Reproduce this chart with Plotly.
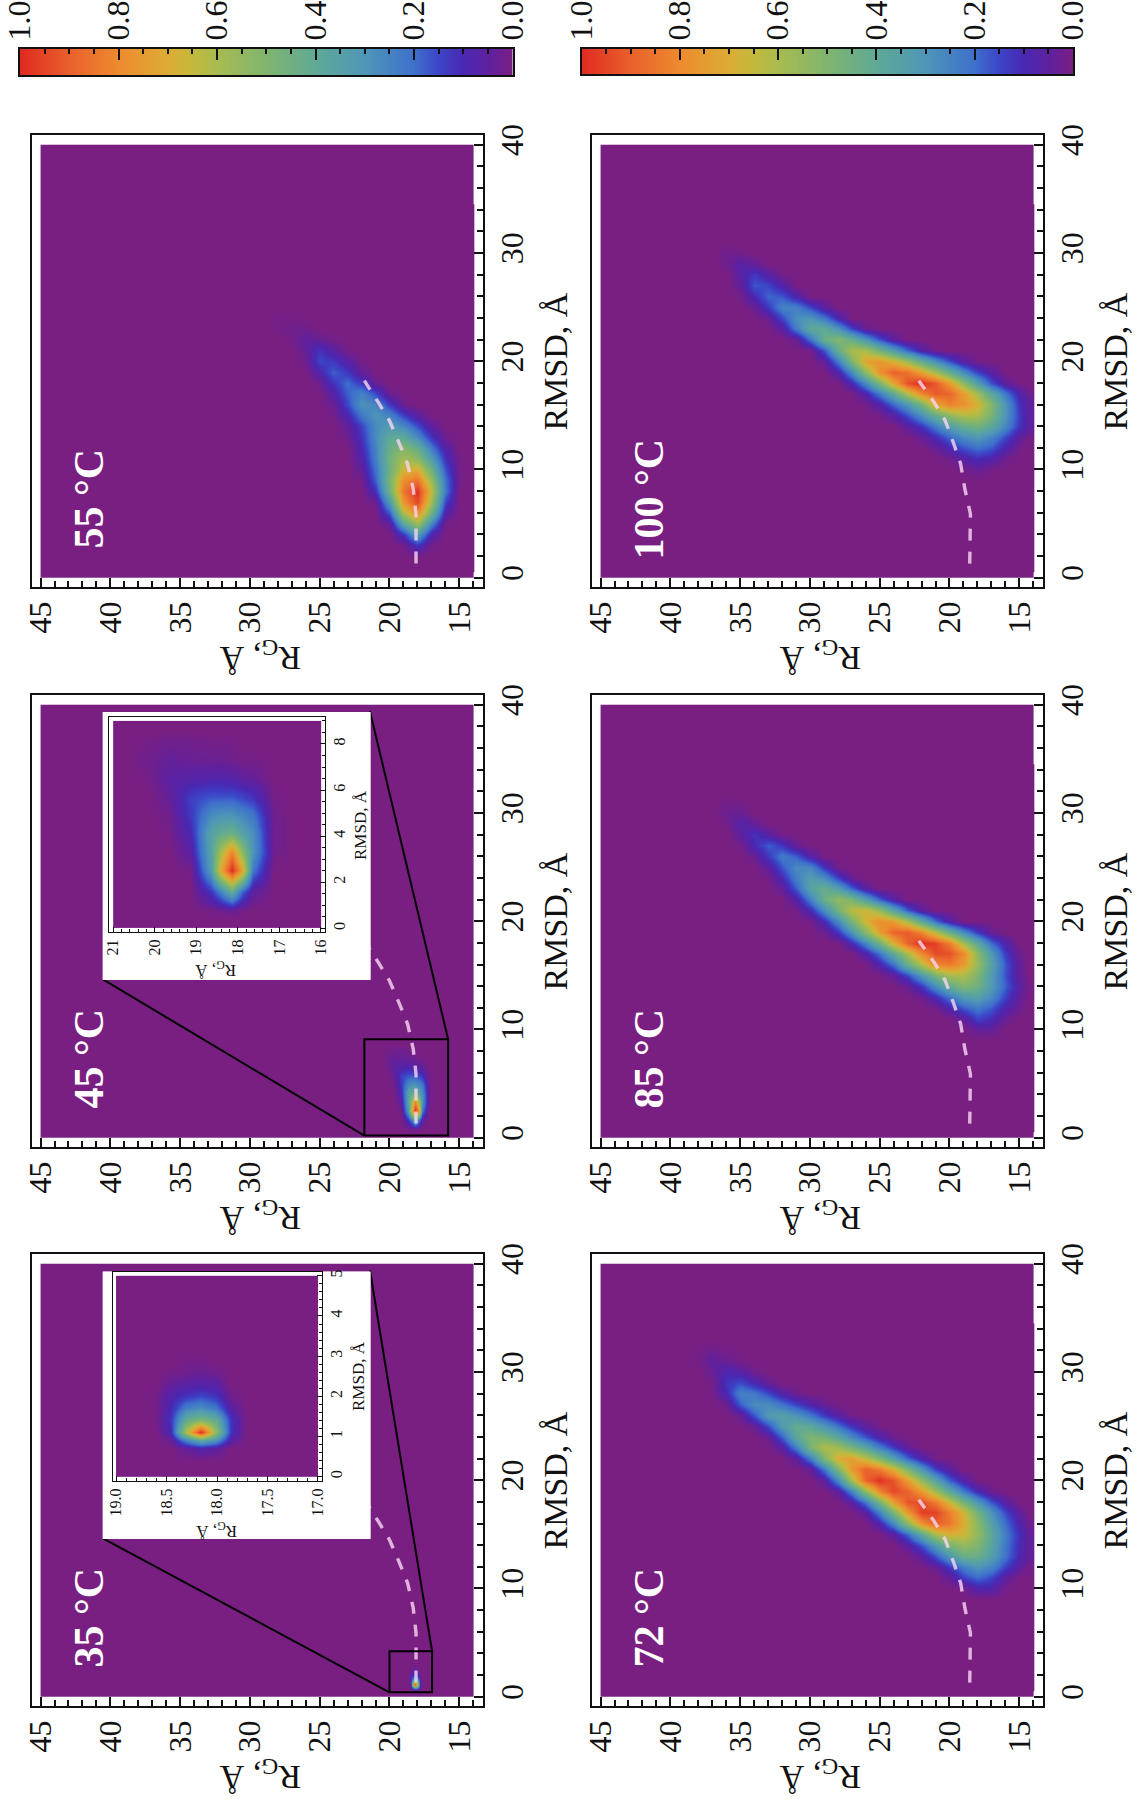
import plotly.graph_objects as go

W, H = 1138, 1800
COLORSCALE = [[0.0, "#7a1f82"], [0.05, "#5f21a0"], [0.1, "#4a28b2"], [0.15, "#3c45c8"], [0.2, "#3e70cc"],
              [0.3, "#4e96b8"], [0.4, "#5fa996"], [0.5, "#7fb56f"], [0.6, "#a8bb50"], [0.65, "#c3b93c"],
              [0.7, "#dcac35"], [0.8, "#ee8b2f"], [0.9, "#e9602c"], [1.0, "#e02b22"]]

# ---------- data ----------
CBAR_LEVELS = [0.0, 0.1, 0.2, 0.3, 0.4, 0.5, 0.6, 0.7, 0.8, 0.9, 1.0]

# columns of the density grids (Rg); rows (RMSD) are listed sparsely: rmsd -> (first Rg column, values)
RG_HOT = [14.3, 15, 16, 17, 18, 19, 20, 21, 22, 23, 24, 25, 26, 27, 28, 29, 30, 31, 32, 33, 34, 35, 36, 37, 38, 39]
RMSD_HOT = [1, 2, 3, 4, 5, 6, 7, 8, 9, 10, 11, 12, 13, 14, 15, 16, 17, 18, 19, 20, 21, 22, 23, 24, 25, 26, 27, 28,
            29, 30, 31, 32, 33, 34]

ROWS_72 = {
    10: (16, [.01, .08, .08, .01]),
    11: (16, [.05, .15, .20, .14, .04]),
    12: (14, [.01, .05, .14, .25, .30, .23, .12, .03]),
    13: (14, [.04, .09, .21, .34, .44, .43, .31, .16, .05]),
    14: (14, [.04, .10, .22, .37, .50, .55, .48, .32, .16, .05]),
    15: (14, [.04, .11, .23, .39, .55, .67, .69, .60, .38, .19, .05]),
    16: (14, [.02, .08, .20, .35, .53, .70, .85, .90, .78, .53, .26, .08]),
    17: (15, [.05, .15, .29, .47, .68, .83, .96, .96, .76, .49, .24, .05]),
    18: (16, [.06, .17, .31, .48, .67, .84, .94, .92, .74, .46, .21, .05]),
    19: (17, [.02, .10, .23, .39, .58, .76, .89, .95, .81, .53, .24, .05]),
    20: (19, [.07, .18, .36, .56, .75, .92, .99, .89, .59, .27, .05]),
    21: (20, [.05, .14, .31, .50, .70, .84, .90, .76, .50, .22, .03]),
    22: (21, [.01, .08, .19, .34, .50, .64, .74, .71, .50, .23, .05]),
    23: (23, [.04, .13, .24, .37, .48, .58, .62, .48, .24, .06]),
    24: (24, [.02, .08, .17, .27, .38, .47, .50, .39, .18, .03]),
    25: (25, [.01, .05, .12, .21, .31, .39, .42, .33, .15, .03]),
    26: (27, [.01, .06, .13, .22, .30, .35, .33, .17, .03]),
    27: (29, [.03, .08, .14, .21, .27, .28, .18, .02]),
    28: (31, [.02, .07, .15, .22, .25, .10, .01]),
    29: (33, [.04, .10, .16, .12, .01]),
    30: (34, [.02, .07, .10, .03]),
    31: (35, [.01, .03, .05, .01]),
    32: (36, [.01, .02, .01]),
}
ROWS_85 = {
    10: (17, [.04, .04]),
    11: (16, [.03, .11, .15, .05]),
    12: (15, [.02, .08, .17, .22, .17, .08, .01]),
    13: (15, [.04, .14, .26, .35, .32, .21, .10, .02]),
    14: (14, [.01, .06, .18, .32, .46, .50, .41, .27, .12, .03]),
    15: (15, [.04, .16, .32, .50, .61, .60, .48, .31, .15, .04]),
    16: (15, [.04, .17, .35, .56, .75, .84, .80, .62, .43, .21, .08]),
    17: (15, [.02, .13, .31, .54, .80, .93, .94, .80, .60, .40, .21, .07]),
    18: (16, [.08, .20, .39, .60, .83, .96, 1.0, .89, .69, .45, .25, .09]),
    19: (17, [.03, .13, .27, .44, .63, .81, .91, .89, .74, .52, .29, .12, .02]),
    20: (20, [.07, .20, .40, .60, .75, .79, .68, .48, .27, .10, .01]),
    21: (22, [.05, .18, .37, .56, .67, .64, .47, .27, .10, .01]),
    22: (24, [.06, .18, .34, .49, .55, .44, .24, .07]),
    23: (26, [.06, .19, .34, .43, .36, .18, .04]),
    24: (27, [.03, .14, .28, .34, .24, .10, .01]),
    25: (28, [.01, .12, .26, .27, .17, .05]),
    26: (30, [.07, .18, .23, .13, .03]),
    27: (31, [.03, .12, .18, .10, .01]),
    28: (32, [.01, .06, .12, .05]),
    29: (34, [.04, .08, .01]),
    30: (35, [.03, .03]),
    31: (35, [.01, .01]),
}
ROWS_100 = {
    10: (17, [.01, .04, .01]),
    11: (16, [.02, .08, .11, .07, .02]),
    12: (15, [.01, .08, .17, .20, .16, .09, .03]),
    13: (14, [.01, .05, .15, .25, .31, .27, .19, .10, .03]),
    14: (14, [.05, .12, .26, .39, .46, .42, .34, .23, .12, .05]),
    15: (14, [.05, .13, .30, .48, .61, .62, .54, .42, .28, .16, .06, .01]),
    16: (14, [.05, .12, .30, .51, .69, .78, .82, .72, .47, .31, .19, .07, .01]),
    17: (14, [.02, .08, .22, .38, .58, .75, .89, .91, .81, .62, .40, .23, .08]),
    18: (16, [.05, .16, .34, .54, .76, .92, 1.0, .93, .72, .48, .26, .09]),
    19: (17, [.06, .14, .27, .43, .59, .74, .86, .90, .78, .53, .26, .08]),
    20: (18, [.01, .06, .16, .28, .42, .57, .69, .77, .73, .49, .23, .04]),
    21: (21, [.01, .07, .19, .33, .47, .60, .61, .43, .17, .01]),
    22: (24, [.05, .16, .30, .43, .51, .44, .21, .03]),
    23: (26, [.03, .14, .29, .40, .40, .24, .06]),
    24: (28, [.09, .22, .31, .28, .15, .03]),
    25: (29, [.05, .15, .24, .25, .13, .03]),
    26: (31, [.08, .17, .19, .10, .01]),
    27: (32, [.07, .15, .17, .04]),
    28: (32, [.01, .06, .13, .06]),
    29: (34, [.04, .07, .02]),
    30: (35, [.01, .02]),
}
ROWS_55 = {
    3: (17, [.01, .12, .01]),
    4: (17, [.08, .34, .12]),
    5: (16, [.01, .26, .59, .38, .04]),
    6: (16, [.08, .47, .81, .62, .18]),
    7: (16, [.14, .58, .95, .77, .32, .02]),
    8: (16, [.22, .64, .99, .85, .45, .11]),
    9: (15, [.01, .21, .56, .86, .79, .48, .18, .01]),
    10: (15, [.01, .16, .45, .70, .67, .45, .21, .04]),
    11: (15, [.01, .11, .32, .53, .59, .46, .24, .07]),
    12: (16, [.07, .23, .43, .52, .44, .25, .09]),
    13: (16, [.02, .12, .27, .40, .40, .27, .12, .02]),
    14: (17, [.05, .16, .27, .33, .27, .14, .04]),
    15: (18, [.05, .14, .25, .30, .22, .09, .01]),
    16: (19, [.02, .13, .26, .29, .15, .03]),
    17: (20, [.02, .15, .25, .18, .07]),
    18: (21, [.03, .13, .20, .12, .02]),
    19: (22, [.04, .13, .18, .08]),
    20: (22, [.01, .06, .13, .15, .02]),
    21: (23, [.01, .06, .12, .04]),
    22: (24, [.01, .03, .05, .01]),
    23: (26, [.02, .02, .01]),
    24: (27, [.01, .01]),
}

RG_45 = [16.64, 17.14, 17.64, 17.9, 18.14, 18.4, 18.64, 19.14, 19.64, 20.14, 20.64]
RMSD_45 = [0.4, 0.8, 1.6, 2.5, 3.3, 4.1, 4.9, 5.7, 6.5, 7.3, 8.1, 8.6]
Z_45 = [
    [0, 0, 0, 0, 0, 0, 0, 0, 0, 0, 0],
    [0, 0, 0, .01, .03, .02, .01, 0, 0, 0, 0],
    [0, 0, .05, .20, .42, .25, .12, 0, 0, 0, 0],
    [0, 0, .22, .75, 1.0, .72, .32, .01, 0, 0, 0],
    [0, .02, .30, .55, .82, .60, .36, .06, 0, 0, 0],
    [0, .02, .28, .36, .45, .42, .36, .10, .01, 0, 0],
    [0, .02, .22, .26, .30, .30, .27, .13, .02, 0, 0],
    [0, .01, .12, .15, .17, .17, .17, .14, .04, 0, 0],
    [0, 0, .04, .05, .07, .08, .08, .07, .06, .01, 0],
    [0, 0, .01, .01, .02, .03, .03, .03, .04, .02, 0],
    [0, 0, 0, 0, .01, .01, .01, .02, .02, .01, 0],
    [0, 0, 0, 0, 0, 0, 0, 0, 0, 0, 0],
]

RG_35 = [17.71, 17.86, 18.01, 18.16, 18.31, 18.46, 18.61, 18.76]
RMSD_35 = [0.4, 0.7, 0.9, 1.1, 1.4, 1.7, 2.0, 2.3, 2.6, 2.9, 3.2]
Z_35 = [
    [0, 0, 0, 0, 0, 0, 0, 0],
    [0, 0, .05, .08, .04, 0, 0, 0],
    [0, .06, .30, .40, .25, .03, 0, 0],
    [0, .12, .55, 1.0, .60, .10, 0, 0],
    [0, .12, .42, .50, .42, .12, .01, 0],
    [0, .06, .22, .28, .24, .10, .01, 0],
    [0, .02, .12, .15, .12, .08, .01, 0],
    [0, 0, .06, .07, .06, .04, 0, 0],
    [0, 0, .02, .03, .02, .01, 0, 0],
    [0, 0, 0, .01, .01, 0, 0, 0],
    [0, 0, 0, 0, 0, 0, 0, 0],
]

# dashed reference curves (RMSD, Rg)
CURVE_RMSD = [1.3, 5.9, 8.2, 10.5, 12.4, 14.5, 16.2, 18.2]
CURVE_RG_LOW = [18.1, 18.1, 18.3, 18.7, 19.3, 20.0, 20.8, 21.8]
CURVE_RG_HIGH = [18.55, 18.5, 18.9, 19.2, 19.7, 20.3, 21.1, 22.2]

# zoom rectangles and leader-line ends (Rg, RMSD)
ZOOM_35 = dict(rg=[20.0, 16.95], rmsd=[0.4, 4.2])
ZOOM_45 = dict(rg=[21.8, 15.8], rmsd=[0.2, 9.1])
BOX_CORNER_RG = [40.5, 21.4]
BOX_CORNER_RMSD = [14.6, 39.4]

# ---------- geometry (page pixels) ----------
COL_X = [(31.5, 483.0), (591.5, 1043.0)]
ROW_Y = [(135.0, 587.0), (695.0, 1147.0), (1254.0, 1706.0)]
SERIF = "Liberation Serif"
BLACK = "#111111"

fig = go.Figure()
layout = {}
annotations = []
axis_no = [0]


def grid(rows):
    col_of = {14: 0}
    for i, v in enumerate(RG_HOT):
        col_of[v] = i
    out = []
    for r in RMSD_HOT:
        line = [0.0] * len(RG_HOT)
        if r in rows:
            first, vals = rows[r]
            start = col_of[first]
            for k, v in enumerate(vals):
                line[start + k] = v
        out.append(line)
    return out


def new_axes(xpx, ypx, xkw, ykw):
    axis_no[0] += 1
    n = axis_no[0]
    suffix = "" if n == 1 else str(n)
    xa = dict(domain=[xpx[0] / W, xpx[1] / W], anchor="y" + suffix, showgrid=False, zeroline=False, automargin=False)
    ya = dict(domain=[1 - ypx[1] / H, 1 - ypx[0] / H], anchor="x" + suffix, showgrid=False, zeroline=False, automargin=False)
    xa.update(xkw)
    ya.update(ykw)
    layout["xaxis" + suffix] = xa
    layout["yaxis" + suffix] = ya
    return "x" + suffix, "y" + suffix


def axis_kw(rng, tick0, dtick, minor_dtick, font, major, minor, lw, side):
    return dict(range=rng, tick0=tick0, dtick=dtick, ticks="inside", ticklen=major, tickwidth=lw,
                tickcolor=BLACK, tickangle=-90, side=side, showline=True, mirror=True, linecolor=BLACK,
                linewidth=lw, tickfont=dict(family=SERIF, size=font, color="#111111"),
                minor=dict(dtick=minor_dtick, tick0=tick0, ticks="inside", ticklen=minor, tickwidth=lw, tickcolor=BLACK))


def note(text, x, y, size, angle, color="#111111", bold=False):
    annotations.append(dict(text="<b>%s</b>" % text if bold else text, xref="paper", yref="paper",
                            x=x / W, y=1 - y / H, showarrow=False, xanchor="center", yanchor="middle",
                            textangle=angle, font=dict(family=SERIF, size=size, color=color)))


def density(rg, rmsd, z, xa, ya):
    fig.add_trace(go.Heatmap(x=rg, y=rmsd, z=z, zmin=0, zmax=1, zsmooth="best", colorscale=COLORSCALE,
                             showscale=False, hoverinfo="skip", xaxis=xa, yaxis=ya))


def base(x_edges, y_edges, xa, ya):
    fig.add_trace(go.Heatmap(x=x_edges, y=y_edges, z=[[0]], zmin=0, zmax=1, colorscale=COLORSCALE,
                             showscale=False, hoverinfo="skip", xaxis=xa, yaxis=ya))


PANELS = [
    ("35 °C", 0, 2, RG_35, RMSD_35, Z_35, CURVE_RG_LOW, ZOOM_35),
    ("45 °C", 0, 1, RG_45, RMSD_45, Z_45, CURVE_RG_LOW, ZOOM_45),
    ("55 °C", 0, 0, RG_HOT, RMSD_HOT, grid(ROWS_55), CURVE_RG_LOW, None),
    ("72 °C", 1, 2, RG_HOT, RMSD_HOT, grid(ROWS_72), CURVE_RG_HIGH, None),
    ("85 °C", 1, 1, RG_HOT, RMSD_HOT, grid(ROWS_85), CURVE_RG_HIGH, None),
    ("100 °C", 1, 0, RG_HOT, RMSD_HOT, grid(ROWS_100), CURVE_RG_HIGH, None),
]

for label, c, r, rg, rmsd, z, curve, zoom in PANELS:
    xpx, ypx = COL_X[c], ROW_Y[r]
    xa, ya = new_axes(xpx, ypx,
                      axis_kw([45.65, 13.3], 15, 5, 1, 32, 9, 6, 1.5, "bottom"),
                      axis_kw([-0.86, 40.9], 0, 10, 2, 32, 9, 6, 1.5, "right"))
    base([45, 13.95], [0, 40], xa, ya)
    density(rg, rmsd, z, xa, ya)
    fig.add_trace(go.Scatter(x=curve, y=CURVE_RMSD, mode="lines", hoverinfo="skip", xaxis=xa, yaxis=ya,
                             line=dict(color="rgba(246,212,240,0.82)", width=3.4, dash="12px,11px")))
    if zoom:
        zr, zs = zoom["rg"], zoom["rmsd"]
        fig.add_trace(go.Scatter(x=[zr[0], zr[1], zr[1], zr[0], zr[0]], y=[zs[0], zs[0], zs[1], zs[1], zs[0]],
                                 mode="lines", line=dict(color="black", width=2), hoverinfo="skip", xaxis=xa, yaxis=ya))
        fig.add_trace(go.Scatter(x=[zr[0], BOX_CORNER_RG[0], None, zr[1], BOX_CORNER_RG[1]],
                                 y=[zs[0], BOX_CORNER_RMSD[0], None, zs[1], BOX_CORNER_RMSD[1]],
                                 mode="lines", line=dict(color="black", width=2), hoverinfo="skip", xaxis=xa, yaxis=ya))
    cx = xpx[0]
    note(label, cx + 57, ypx[0] + 364, 42, -90, "white", True)
    note("R<sub>G</sub>, Å", cx + 229, ypx[1] + 69, 34, 180)
    note("RMSD, Å", cx + 523, ypx[0] + 227, 34, -90)

# colorbars
for xpx, ypx in [((20.0, 512.5), (49.0, 75.0)), ((581.5, 1073.0), (49.0, 74.0))]:
    xa, ya = new_axes(xpx, ypx,
                      axis_kw([1.0, 0.0], 0, 0.2, 0.05, 32, 11, 5, 2, "top"),
                      dict(range=[0, 1], showticklabels=False, ticks="", showline=True, mirror=True,
                           linecolor=BLACK, linewidth=2))
    layout[xa.replace("x", "xaxis")]["tickformat"] = ".1f"
    fig.add_trace(go.Heatmap(x=CBAR_LEVELS, y=[0, 1], z=[CBAR_LEVELS, CBAR_LEVELS], zmin=0, zmax=1, zsmooth="best",
                             colorscale=COLORSCALE, showscale=False, hoverinfo="skip", xaxis=xa, yaxis=ya))

# inset white boxes (own subplots so they sit above the main panels)
for ypx in [(1271.5, 1539.0), (712.0, 980.0)]:
    xa, ya = new_axes((102.7, 370.5), ypx,
                      dict(range=[0, 1], visible=False), dict(range=[0, 1], visible=False))
    fig.add_trace(go.Heatmap(x=[0, 1], y=[0, 1], z=[[0]], colorscale=[[0, "white"], [1, "white"]], showscale=False,
                             hoverinfo="skip", xaxis=xa, yaxis=ya))

# inset 35 °C
xa, ya = new_axes((113.0, 322.0), (1272.0, 1481.0),
                  axis_kw([19.03, 16.96], 17, 0.5, 0.1, 16, 5, 3, 1.2, "bottom"),
                  axis_kw([-0.107, 5.095], 0, 1, 0.2, 16, 5, 3, 1.2, "right"))
layout[xa.replace("x", "xaxis")]["tickformat"] = ".1f"
base([19, 17], [0, 5], xa, ya)
density(RG_35, RMSD_35, Z_35, xa, ya)
note("R<sub>G</sub>, Å", 217, 1530, 17, 180)
note("RMSD, Å", 358, 1376, 17, -90)

# inset 45 °C
xa, ya = new_axes((109.0, 325.0), (717.0, 932.0),
                  axis_kw([21.1, 15.9], 16, 1, 0.2, 16, 5, 3, 1.2, "bottom"),
                  axis_kw([-0.16, 9.17], 0, 2, 0.5, 16, 5, 3, 1.2, "right"))
base([21, 16], [0, 9], xa, ya)
density(RG_45, RMSD_45, Z_45, xa, ya)
note("R<sub>G</sub>, Å", 216, 969, 17, 180)
note("RMSD, Å", 361, 825, 17, -90)

fig.update_layout(width=W, height=H, autosize=False, margin=dict(l=0, r=0, t=0, b=0), paper_bgcolor="white",
                  plot_bgcolor="white", showlegend=False, annotations=annotations, **layout)

fig.write_html("out.html", post_script="document.body.style.margin='0';", config={"displayModeBar": False})
